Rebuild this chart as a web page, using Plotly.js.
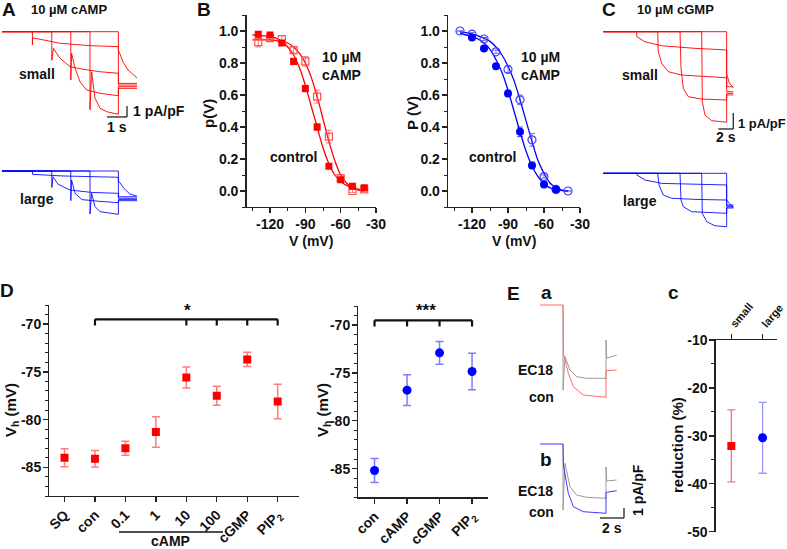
<!DOCTYPE html>
<html lang="en">
<head>
<meta charset="UTF-8">
<title>HCN currents - cAMP / cGMP</title>
<script src="https://cdn.plot.ly/plotly-3.0.1.min.js"></script>
<style>
  body { margin: 0; background: #fff; }
  #fig { width: 787px; height: 549px; }
</style>
</head>
<body>
<div id="fig"></div>
<script>
var W = 787, H = 549;
var FONT = 'Liberation Sans, Arial, Helvetica, sans-serif';
var RED = '#ff0000', BLUE = '#0000ff';

// ---- A: 10 uM cAMP, current traces (time s, current pA/pF) ----
var aSmallT = [
  [0, 5.82, 5.82, 5.86, 6.05, 6.3, 6.75],
  [0, 1.52, 1.52, 1.53, 2.9, 4.4, 5.82, 5.82, 6.75],
  [0, 2.49, 2.49, 2.57, 2.9, 3.4, 4.07, 4.9, 5.82, 5.82, 6.75],
  [0, 3.44, 3.44, 3.48, 3.65, 3.9, 4.23, 4.9, 5.82, 5.82, 6.75],
  [0, 4.4, 4.4, 4.48, 4.65, 4.9, 5.23, 5.82, 5.82, 6.75]
];
var aSmallI = [
  [0, 0, -1.7, -1.85, -2.75, -3.48, -4.2],
  [0, 0, -1.2, -0.55, -1.05, -1.27, -1.36, -4.7, -4.7],
  [0, 0, -2.6, -1.51, -2.42, -3.18, -3.42, -3.64, -3.78, -4.85, -4.85],
  [0, 0, -4.4, -1.96, -3.33, -4.55, -5.3, -5.6, -5.82, -5.0, -5.0],
  [0, 0, -7.1, -3.64, -6.05, -6.96, -7.27, -7.51, -5.15, -5.15]
];
var aLargeT = [
  [0, 5.82, 5.82, 5.86, 6.1, 6.4, 6.75],
  [0, 1.52, 1.53, 3.0, 5.82, 5.82, 6.75],
  [0, 2.49, 2.49, 2.55, 2.8, 3.4, 4.5, 5.82, 5.82, 6.75],
  [0, 3.44, 3.44, 3.48, 3.65, 4.0, 4.9, 5.82, 5.82, 6.75],
  [0, 4.4, 4.4, 4.48, 4.65, 4.9, 5.82, 5.82, 6.75]
];
var aLargeI = [
  [0, 0, -0.97, -0.97, -1.6, -2.1, -2.3],
  [0, 0, -0.3, -0.45, -0.57, -2.34, -2.34],
  [0, 0, -1.5, -0.52, -1.2, -1.73, -1.95, -2.03, -2.48, -2.48],
  [0, 0, -2.7, -0.82, -2.03, -2.6, -2.76, -2.88, -2.6, -2.6],
  [0, 0, -3.9, -2.03, -3.24, -3.7, -3.94, -2.7, -2.7]
];

// ---- B: activation curves p(V) ----
var bV = [-130, -120, -110, -100, -90, -80, -70, -60, -50, -40];
var bCon = [0.98, 0.975, 0.925, 0.81, 0.64, 0.40, 0.155, 0.07, 0.03, 0.02];
var bConErr = [0.01, 0.01, 0.015, 0.02, 0.02, 0.02, 0.015, 0.01, 0.01, 0.01];
var bCamp = [0.93, 0.955, 0.95, 0.88, 0.81, 0.59, 0.34, 0.08, 0.0, 0.01];
var bCampErr = [0.03, 0.01, 0.02, 0.02, 0.03, 0.04, 0.04, 0.02, 0.01, 0.01];
var bFitV = [-135, -130, -125, -120, -115, -110, -105, -100, -95, -90, -85, -80, -75, -70, -65, -60, -55, -50, -45, -40];
var bFitCon = [0.975, 0.973, 0.97, 0.965, 0.955, 0.935, 0.9, 0.85, 0.77, 0.66, 0.53, 0.4, 0.27, 0.17, 0.10, 0.06, 0.035, 0.02, 0.012, 0.008];
var bFitCamp = [0.945, 0.945, 0.945, 0.944, 0.94, 0.935, 0.925, 0.9, 0.86, 0.8, 0.71, 0.59, 0.45, 0.31, 0.19, 0.10, 0.05, 0.02, 0.005, 0.0];

var brVCon = [-120, -110, -100, -90, -80, -70, -60, -50];
var brCon = [0.96, 0.89, 0.78, 0.61, 0.37, 0.16, 0.04, 0.01];
var brConErr = [0.01, 0.01, 0.01, 0.02, 0.03, 0.02, 0.01, 0.01];
var brVCamp = [-130, -120, -110, -100, -90, -80, -70, -60, -50, -40];
var brCamp = [1.0, 0.98, 0.95, 0.87, 0.76, 0.57, 0.32, 0.09, 0.01, 0.0];
var brCampErr = [0.0, 0.01, 0.01, 0.01, 0.02, 0.03, 0.04, 0.01, 0.01, 0.0];
var brFitV = [-130, -125, -120, -115, -110, -105, -100, -95, -90, -85, -80, -75, -70, -65, -60, -55, -50, -45, -40];
var brFitCon = [0.985, 0.975, 0.965, 0.95, 0.925, 0.885, 0.82, 0.74, 0.63, 0.50, 0.37, 0.25, 0.155, 0.09, 0.045, 0.02, 0.01, 0.003, 0.0];
var brFitCamp = [0.995, 0.99, 0.98, 0.97, 0.955, 0.935, 0.9, 0.85, 0.78, 0.69, 0.57, 0.44, 0.31, 0.19, 0.11, 0.05, 0.02, 0.005, 0.0];

var bTickV = [-120, -90, -60, -30];
var bTickT = ['-120', '-90', '-60', '-30'];
var pTickV = [0, 0.2, 0.4, 0.6, 0.8, 1.0];
var pTickT = ['0.0', '0.2', '0.4', '0.6', '0.8', '1.0'];

// ---- C: 10 uM cGMP ----
var cSmallT = [
  [0, 16.45, 16.45, 16.5, 16.8, 17.33],
  [0, 4.45, 4.47, 5.56, 7.79, 12.23, 16.45, 16.45, 17.33],
  [0, 7.25, 7.33, 7.79, 8.67, 10.45, 16.45, 16.45, 17.33],
  [0, 10.23, 10.36, 10.67, 11.33, 13.12, 16.45, 16.45, 17.33],
  [0, 13.12, 13.2, 13.56, 14.45, 16.45, 16.45, 17.33]
];
var cSmallI = [
  [0, 0, -2.7, -2.7, -3.2, -3.5],
  [0, 0, -0.31, -0.63, -0.88, -1.04, -1.14, -3.44, -3.44],
  [0, 0, -1.25, -1.98, -2.5, -2.71, -2.88, -3.75, -3.75],
  [0, 0, -2.29, -3.54, -4.06, -4.21, -4.27, -3.85, -3.85],
  [0, 0, -4.38, -5.21, -5.56, -5.66, -3.95, -3.95]
];
var cLargeT = [
  [0, 16.45, 16.45, 17.33],
  [0, 4.45, 4.5, 5.56, 7.79, 12.23, 16.45, 16.45, 17.33],
  [0, 7.25, 7.43, 8.0, 9.12, 12.23, 16.45, 16.45, 17.33],
  [0, 10.23, 10.36, 10.67, 11.79, 16.45, 16.45, 17.33],
  [0, 13.12, 13.2, 13.79, 14.89, 16.45, 16.45, 17.33]
];
var cLargeI = [
  [0, 0, -1.67, -2.17],
  [0, 0, -0.11, -0.42, -0.63, -0.69, -0.73, -1.98, -1.98],
  [0, 0, -0.73, -1.36, -1.56, -1.63, -1.67, -2.05, -2.05],
  [0, 0, -1.67, -2.09, -2.4, -2.5, -2.1, -2.1],
  [0, 0, -2.5, -3.03, -3.28, -3.34, -2.17, -2.17]
];

// ---- D: half-activation voltage ----
var dSmallCats = ['SQ', 'con', '0.1', '1', '10', '100', 'cGMP', 'PIP<sub>2</sub>'];
var dSmallVh = [-84.0, -84.1, -83.0, -81.3, -75.6, -77.5, -73.7, -78.1];
var dSmallErr = [0.95, 0.87, 0.73, 1.6, 1.1, 1.0, 0.75, 1.8];
var dLargeCats = ['con', 'cAMP', 'cGMP', 'PIP<sub>2</sub>'];
var dLargeVh = [-85.2, -76.8, -72.9, -74.85];
var dLargeErr = [1.25, 1.6, 1.2, 1.9];
var dTickV = [-85, -80, -75, -70];
var dTickT = ['-85', '-80', '-75', '-70'];
var dSmallBracket = [1, 4, 5, 6, 7];
var dLargeBracket = [0, 1, 2, 3];

// ---- E: EC18 block ----
var eConT = [0, 1.92, 1.95, 2.36, 2.78, 3.61, 5.5, 5.5, 5.56, 6.39];
var eaConI = [0, 0, -4.83, -6.83, -8.17, -9.0, -9.23, -6.57, -6.57, -6.5];
var ebConI = [0, 0, -2.1, -4.93, -6.27, -6.77, -6.93, -4.83, -4.83, -4.67];
var eEcT = [1.92, 1.92, 2.08, 2.5, 3.06, 3.89, 5.5, 5.5, 5.5, 5.56, 6.39];
var eaEcI = [0, -8.5, -5.17, -6.5, -7.17, -7.33, -7.33, -3.5, -5.33, -5.33, -5.0];
var ebEcI = [0, -6.6, -1.93, -4.27, -5.1, -5.33, -5.43, -2.3, -3.7, -3.7, -3.6];

var redCats = ['small', 'large'];
var redMean = [-32.1, -30.4];
var redErr = [7.5, 7.4];
var rTickV = [-50, -40, -30, -20, -10];
var rTickT = ['-50', '-40', '-30', '-20', '-10'];

// ---------- helpers ----------
function f(size) { return { family: FONT, size: size, color: '#111', weight: 'bold' }; }
function xd(a, b) { return [a / W, b / W]; }
function yd(top, bottom) { return [1 - bottom / H, 1 - top / H]; }

// hidden axes for the recordings; box in px, origin = px of (0,0), px per unit
function recAxes(n, box, origin, ppx, ppy) {
  var xa = { domain: xd(box[0], box[2]), range: [(box[0] - origin[0]) / ppx, (box[2] - origin[0]) / ppx],
             visible: false, fixedrange: true, anchor: 'y' + n };
  var ya = { domain: yd(box[1], box[3]), range: [-(box[3] - origin[1]) / ppy, -(box[1] - origin[1]) / ppy],
             visible: false, fixedrange: true, anchor: 'x' + n };
  return [xa, ya];
}

function shown(extra) {
  var base = { showline: true, linecolor: '#222', linewidth: 1.3, ticks: 'outside', ticklen: 5,
               tickwidth: 1.3, tickcolor: '#222', showgrid: false, zeroline: false,
               tickfont: f(14), ticklabelstandoff: -1, fixedrange: true };
  return Object.assign(base, extra);
}
function minor(dt) {
  return { tickmode: 'linear', tick0: 0, dtick: dt, ticks: 'outside', ticklen: 3, tickwidth: 1, tickcolor: '#222', showgrid: false };
}

function sweeps(T, I, color, n) {
  return T.map(function (t, k) {
    return { x: t, y: I[k], type: 'scatter', mode: 'lines', line: { color: color, width: 1 },
             xaxis: 'x' + n, yaxis: 'y' + n, hoverinfo: 'skip' };
  });
}

function note(text, x, y, size, extra) {
  return Object.assign({ text: text, xref: 'paper', yref: 'paper', x: x / W, y: 1 - y / H,
    xanchor: 'center', yanchor: 'middle', showarrow: false, font: f(size) }, extra || {});
}

function seg(ref, x0, y0, x1, y1, w, color) {
  return { type: 'line', xref: 'x' + ref, yref: 'y' + ref, x0: x0, y0: y0, x1: x1, y1: y1,
           line: { color: color || '#222', width: w || 1.3 } };
}

// ---------- traces ----------
var data = [];
data = data.concat(sweeps(aSmallT, aSmallI, 'rgba(255,0,0,0.9)', ''));
data = data.concat(sweeps(aLargeT, aLargeI, 'rgba(0,0,255,0.85)', 2));
data = data.concat(sweeps(cSmallT, cSmallI, 'rgba(255,0,0,0.9)', 5));
data = data.concat(sweeps(cLargeT, cLargeI, 'rgba(0,0,255,0.85)', 6));

// B left
data.push({ x: bFitV, y: bFitCon, mode: 'lines', line: { color: RED, width: 1.3, shape: 'spline' }, xaxis: 'x3', yaxis: 'y3' });
data.push({ x: bFitV, y: bFitCamp, mode: 'lines', line: { color: RED, width: 1.3, shape: 'spline' }, xaxis: 'x3', yaxis: 'y3' });
data.push({ x: bV, y: bCamp, mode: 'markers', marker: { symbol: 'square-open', size: 7, color: '#ff5050', line: { width: 1.2 } },
  error_y: { type: 'data', array: bCampErr, color: 'rgba(255,60,60,0.7)', thickness: 1, width: 3 }, xaxis: 'x3', yaxis: 'y3' });
data.push({ x: bV, y: bCon, mode: 'markers', marker: { symbol: 'square', size: 7, color: RED },
  error_y: { type: 'data', array: bConErr, color: 'rgba(255,0,0,0.7)', thickness: 1, width: 3 }, xaxis: 'x3', yaxis: 'y3' });
// B right
data.push({ x: brFitV, y: brFitCon, mode: 'lines', line: { color: BLUE, width: 1.3, shape: 'spline' }, xaxis: 'x4', yaxis: 'y4' });
data.push({ x: brFitV, y: brFitCamp, mode: 'lines', line: { color: BLUE, width: 1.3, shape: 'spline' }, xaxis: 'x4', yaxis: 'y4' });
data.push({ x: brVCamp, y: brCamp, mode: 'markers', marker: { symbol: 'circle-open', size: 8, color: '#4040ff', line: { width: 1.2 } },
  error_y: { type: 'data', array: brCampErr, color: 'rgba(60,60,255,0.7)', thickness: 1, width: 3 }, xaxis: 'x4', yaxis: 'y4' });
data.push({ x: brVCon, y: brCon, mode: 'markers', marker: { symbol: 'circle', size: 8, color: BLUE },
  error_y: { type: 'data', array: brConErr, color: 'rgba(0,0,255,0.7)', thickness: 1, width: 3 }, xaxis: 'x4', yaxis: 'y4' });

// D
data.push({ x: dSmallCats, y: dSmallVh, mode: 'markers', marker: { symbol: 'square', size: 8, color: RED },
  error_y: { type: 'data', array: dSmallErr, color: 'rgba(255,80,80,0.75)', thickness: 1.5, width: 4 }, xaxis: 'x7', yaxis: 'y7' });
data.push({ x: dLargeCats, y: dLargeVh, mode: 'markers', marker: { symbol: 'circle', size: 9, color: BLUE },
  error_y: { type: 'data', array: dLargeErr, color: 'rgba(80,80,255,0.75)', thickness: 1.5, width: 4 }, xaxis: 'x8', yaxis: 'y8' });

// E
data.push({ x: eEcT, y: eaEcI, mode: 'lines', line: { color: '#9a9a9a', width: 1 }, xaxis: 'x9', yaxis: 'y9' });
data.push({ x: eConT, y: eaConI, mode: 'lines', line: { color: '#ff6a6a', width: 1 }, xaxis: 'x9', yaxis: 'y9' });
data.push({ x: eEcT, y: ebEcI, mode: 'lines', line: { color: '#9a9a9a', width: 1 }, xaxis: 'x10', yaxis: 'y10' });
data.push({ x: eConT, y: ebConI, mode: 'lines', line: { color: '#3a3aff', width: 1 }, xaxis: 'x10', yaxis: 'y10' });

// c
data.push({ x: [redCats[0]], y: [redMean[0]], mode: 'markers', marker: { symbol: 'square', size: 8, color: RED },
  error_y: { type: 'data', array: [redErr[0]], color: 'rgba(255,80,80,0.8)', thickness: 1.3, width: 4 }, xaxis: 'x11', yaxis: 'y11' });
data.push({ x: [redCats[1]], y: [redMean[1]], mode: 'markers', marker: { symbol: 'circle', size: 9, color: BLUE },
  error_y: { type: 'data', array: [redErr[1]], color: 'rgba(80,80,255,0.6)', thickness: 1.3, width: 4 }, xaxis: 'x11', yaxis: 'y11' });

// ---------- layout ----------
var ax1 = recAxes('', [0, 25, 150, 135], [2, 31.7], 20, 11);
var ax2 = recAxes(2, [0, 160, 150, 225], [2, 171], 20, 11);
var ax5 = recAxes(5, [595, 25, 745, 140], [603.3, 31.7], 7.5, 16);
var ax6 = recAxes(6, [595, 165, 745, 235], [603.3, 173.3], 7.5, 16);
var ax9 = recAxes(9, [535, 295, 630, 405], [540, 305], 12, 10);
var ax10 = recAxes(10, [535, 435, 630, 530], [540, 444], 12, 10);

var layout = {
  width: W, height: H, margin: { l: 0, r: 0, t: 0, b: 0 },
  paper_bgcolor: '#fff', plot_bgcolor: 'rgba(0,0,0,0)',
  showlegend: false, hovermode: false,
  font: { family: FONT, color: '#111' },
  xaxis: ax1[0], yaxis: ax1[1],
  xaxis2: ax2[0], yaxis2: ax2[1],
  xaxis5: ax5[0], yaxis5: ax5[1],
  xaxis6: ax6[0], yaxis6: ax6[1],
  xaxis9: ax9[0], yaxis9: ax9[1],
  xaxis10: ax10[0], yaxis10: ax10[1],
  xaxis3: shown({ domain: xd(246.5, 376), range: [-140, -30], tickmode: 'array', tickvals: bTickV, ticktext: bTickT,
    minor: minor(15), anchor: 'y3' }),
  yaxis3: shown({ domain: yd(15, 207), range: [-0.1, 1.1], tickmode: 'array', tickvals: pTickV, ticktext: pTickT,
    minor: minor(0.1), anchor: 'x3' }),
  xaxis4: shown({ domain: xd(448, 580), range: [-140, -30], tickmode: 'array', tickvals: bTickV, ticktext: bTickT,
    minor: minor(15), anchor: 'y4' }),
  yaxis4: shown({ domain: yd(15, 207), range: [-0.1, 1.1], tickmode: 'array', tickvals: pTickV, ticktext: pTickT,
    minor: minor(0.1), anchor: 'x4' }),
  xaxis7: shown({ domain: xd(49.3, 299), type: 'category', range: [-0.5, 7.7], tickangle: -45, anchor: 'y7' }),
  yaxis7: shown({ domain: yd(305, 496), range: [-88, -68], tickmode: 'array', tickvals: dTickV, ticktext: dTickT,
    minor: minor(1), anchor: 'x7' }),
  xaxis8: shown({ domain: xd(358.3, 488.3), type: 'category', range: [-0.5, 3.5], tickangle: -45, anchor: 'y8' }),
  yaxis8: shown({ domain: yd(306, 497.3), range: [-88, -68], tickmode: 'array', tickvals: dTickV, ticktext: dTickT,
    minor: minor(1), anchor: 'x8' }),
  xaxis11: shown({ domain: xd(715.7, 777), type: 'category', range: [-0.5, 1.46], side: 'top', tickangle: -50,
    tickfont: f(11), anchor: 'y11' }),
  yaxis11: shown({ domain: yd(340, 531.7), range: [-50, -10], tickmode: 'array', tickvals: rTickV, ticktext: rTickT,
    minor: minor(5), anchor: 'x11' }),
  shapes: [],
  annotations: []
};

// scale bars
layout.shapes.push(seg('', 5.25, -7.75, 6.25, -7.75), seg('', 6.25, -7.75, 6.25, -6.75));
layout.shapes.push(seg(5, 15.33, -6.08, 17.33, -6.08), seg(5, 17.33, -6.08, 17.33, -5.08));
layout.shapes.push(seg(10, 5.0, -7.4, 7.0, -7.4), seg(10, 7.0, -7.4, 7.0, -6.4));
// significance brackets
layout.shapes.push(seg(7, dSmallBracket[0], -69.5, dSmallBracket[dSmallBracket.length - 1], -69.5, 2.2, '#111'));
dSmallBracket.forEach(function (i) { layout.shapes.push(seg(7, i, -69.5, i, -70.15, 2.2, '#111')); });
layout.shapes.push(seg(8, dLargeBracket[0], -69.5, dLargeBracket[dLargeBracket.length - 1], -69.5, 2.2, '#111'));
dLargeBracket.forEach(function (i) { layout.shapes.push(seg(8, i, -69.5, i, -70.15, 2.2, '#111')); });
// cAMP group underline
layout.shapes.push({ type: 'line', xref: 'paper', yref: 'paper', x0: 119 / W, x1: 223 / W, y0: 1 - 532 / H, y1: 1 - 532 / H,
  line: { color: '#111', width: 1.5 } });

layout.annotations = [
  note('A', 9, 10, 19), note('10 µM cAMP', 69, 10, 13),
  note('small', 37, 74, 14), note('large', 37, 199, 14),
  note('1 pA/pF', 131, 111, 14, { xanchor: 'left' }), note('1 s', 117, 127, 14),

  note('B', 204, 9, 19),
  note('10 µM<br>cAMP', 320, 66, 14, { xanchor: 'left', align: 'left' }), note('control', 293, 157, 14),
  note('10 µM<br>cAMP', 519, 66, 14, { xanchor: 'left', align: 'left' }), note('control', 492, 157, 14),
  note('p(V)', 209, 113, 15, { textangle: -90 }), note('P (V)', 413, 113, 15, { textangle: -90 }),
  note('V (mV)', 311, 241, 14), note('V (mV)', 514, 241, 14),

  note('C', 609, 10, 19), note('10 µM cGMP', 675, 10, 13),
  note('small', 640, 75, 14), note('large', 640, 201, 14),
  note('1 pA/pF', 736, 123, 13, { xanchor: 'left' }), note('2 s', 726, 137, 14),

  note('D', 7, 290, 19),
  note('V<sub>h</sub> (mV)', 11, 410, 15, { textangle: -90 }), note('V<sub>h</sub> (mV)', 323, 410, 15, { textangle: -90 }),
  note('*', 187, 310, 17), note('***', 426, 310, 17), note('cAMP', 170, 541, 14),

  note('E', 513, 293, 19), note('a', 546, 292, 19), note('b', 546, 459, 19),
  note('EC18', 535, 370, 14), note('con', 541, 397, 14),
  note('EC18', 535, 491, 14), note('con', 541, 512, 14),
  note('1 pA/pF', 638, 490, 14, { textangle: -90 }), note('2 s', 612, 528, 14),

  note('c', 673, 292, 19), note('reduction (%)', 677, 445, 15, { textangle: -90 })
];

Plotly.newPlot('fig', data, layout, { staticPlot: true, displayModeBar: false });
</script>
</body>
</html>
